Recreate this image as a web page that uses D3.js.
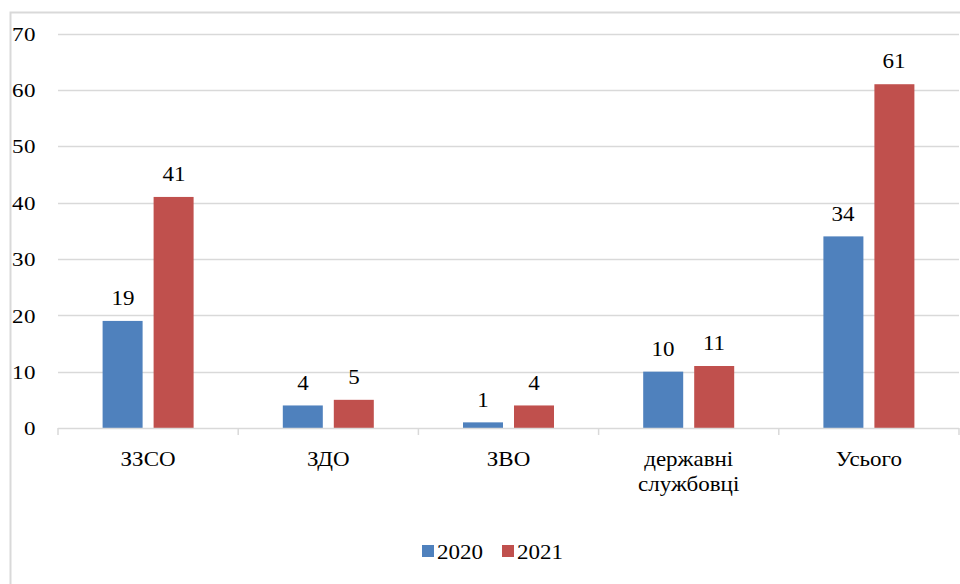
<!DOCTYPE html>
<html><head><meta charset="utf-8">
<script src="https://cdn.jsdelivr.net/npm/d3@7"></script>
<style>
@font-face{font-family:"ChartSerif";src:local("Liberation Serif"),local("LiberationSerif"),local("Times New Roman");}
body{margin:0;background:#fff;font-family:"ChartSerif","Liberation Serif",serif}
#wrap{position:relative;width:960px;height:584px;overflow:hidden}
svg{display:block;position:absolute;left:0;top:0}
.lbl{position:absolute;white-space:nowrap;font-family:"ChartSerif",serif;font-size:20px;line-height:20px;color:#000}
</style>
</head><body><div id="wrap"><svg id="c" width="960" height="584"></svg></div>
<script>
const categories = [["ЗЗСО"],["ЗДО"],["ЗВО"],["державні","службовці"],["Усього"]];
const seriesNames = ["2020","2021"];
const values2020 = [19,4,1,10,34];
const values2021 = [41,5,4,11,61];
const yTicks = [0,10,20,30,40,50,60,70];
const colors = ["#4f81bd","#c0504d"];

const svg = d3.select("#c");
const wrap = d3.select("#wrap");
const SX = 1.15;
function txt(x, y, s, anchor, fam){
  const tx = anchor==="middle" ? "-50%" : anchor==="end" ? "-100%" : "0";
  const origin = anchor==="middle" ? "center" : anchor==="end" ? "right" : "left";
  const el = wrap.append("div").attr("class","lbl").text(s);
  el.node().setAttribute("style",
    `left:${x}px;top:${y-16.75}px;transform:translateX(${tx}) scaleX(${SX});transform-origin:${origin} center;font-family:${fam};font-size:20px;`);
  return el;
}

svg.append("rect").attr("x",10.5).attr("y",12.5).attr("width",1000).attr("height",1000)
  .attr("fill","none").attr("stroke","#d9d9d9").attr("stroke-width",2);

const x0 = d3.scaleBand().domain(d3.range(categories.length)).range([58,959]).paddingInner(0).paddingOuter(0);
const y = d3.scaleLinear().domain([0,70]).range([428,33.5]);

svg.append("g").selectAll("line").data(yTicks.filter(d=>d>0)).join("line")
  .attr("x1",58).attr("x2",959).attr("y1",d=>Math.round(y(d))+0.5).attr("y2",d=>Math.round(y(d))+0.5)
  .attr("stroke","#d9d9d9").attr("stroke-width",1.5);

yTicks.forEach(t=>txt(35,y(t)+7,String(t),"end","ChartSerif,serif"));

const bw = 40, gap = 11;
const series = [values2020, values2021];
series.forEach((vals,si)=>{
  svg.append("g").selectAll("rect").data(vals).join("rect")
    .attr("x",(d,i)=>x0(i)+x0.bandwidth()/2 - (bw*2+gap)/2 + si*(bw+gap))
    .attr("y",d=>y(d)).attr("width",bw).attr("height",d=>y(0)-y(d))
    .attr("fill",colors[si]);
  vals.forEach((d,i)=>{
    const cx = x0(i)+x0.bandwidth()/2 - (bw*2+gap)/2 + si*(bw+gap) + bw/2;
    txt(cx,y(d)-16,String(d),"middle","'Liberation Serif',serif");
  });
});

svg.append("line").attr("x1",58).attr("x2",959).attr("y1",428.5).attr("y2",428.5)
  .attr("stroke","#d9d9d9").attr("stroke-width",1.5);
svg.append("g").selectAll("line").data(d3.range(categories.length+1)).join("line")
  .attr("x1",i=>58+i*x0.bandwidth()).attr("x2",i=>58+i*x0.bandwidth())
  .attr("y1",428).attr("y2",435).attr("stroke","#d9d9d9").attr("stroke-width",1.5);

categories.forEach((lines,i)=>{
  lines.forEach((s,li)=>{
    svg.append("text").attr("transform",`translate(${x0(i)+x0.bandwidth()/2},${466+li*25}) scale(${SX},1)`)
      .attr("text-anchor","middle").attr("font-family","Times New Roman").attr("font-size",20)
      .attr("fill","#000").text(s);
  });
});

const legX = [422,502];
seriesNames.forEach((s,i)=>{
  svg.append("rect").attr("x",legX[i]).attr("y",545).attr("width",12).attr("height",12).attr("fill",colors[i]);
  txt(legX[i]+15,559,s,"start","serif");
});
</script></body></html>
